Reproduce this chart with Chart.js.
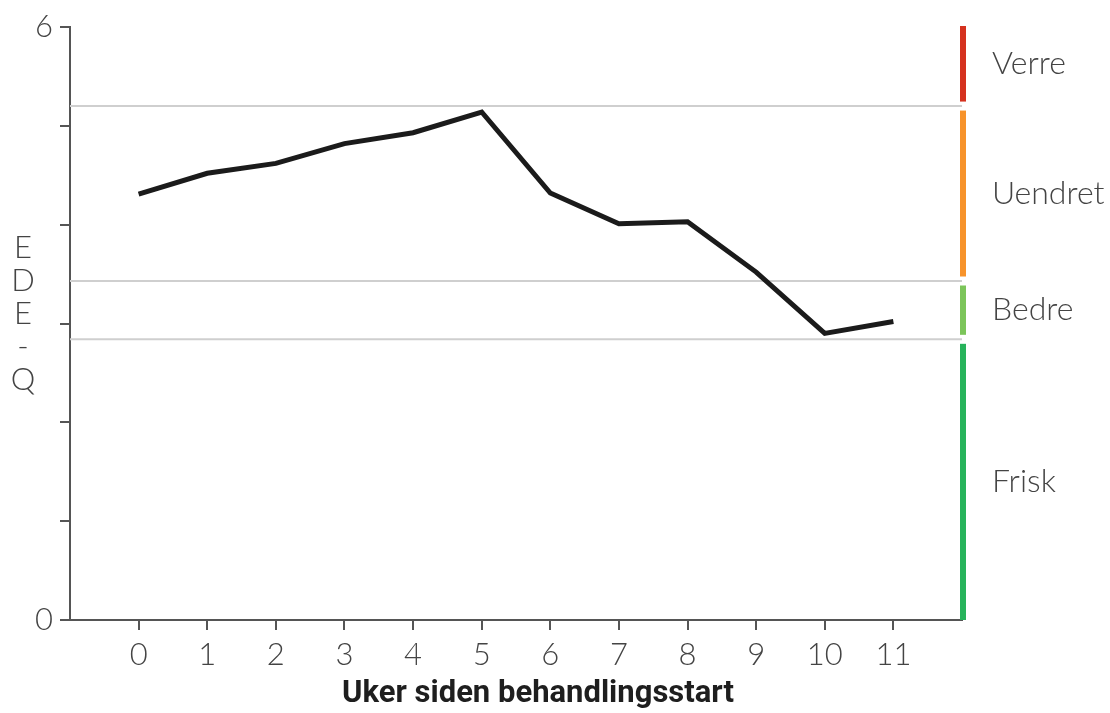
<!DOCTYPE html>
<html>
<head>
<meta charset="utf-8">
<script src="https://cdn.jsdelivr.net/npm/chart.js@4"></script>
<style>
  html, body { margin: 0; padding: 0; background: #fff; }
  #wrap { width: 1110px; height: 713px; }
</style>
</head>
<body>
<div id="wrap"><canvas id="chart"></canvas></div>
<script>
// data
const weeks = [0, 1, 2, 3, 4, 5, 6, 7, 8, 9, 10, 11]
const edeq = [4.31, 4.52, 4.62, 4.82, 4.93, 5.14, 4.32, 4.01, 4.03, 3.52, 2.9, 3.02]
const yTickLabels = [0, 6]
const cutoffs = [2.84, 3.43, 5.2]
const bandNames = ['Frisk', 'Bedre', 'Uendret', 'Verre']
const bandColors = ['#27b35b', '#7cc55a', '#f7932b', '#d5321f']
const yTitle = ['E', 'D', 'E', '-', 'Q']
const xTitle = 'Uker siden behandlingsstart'

const thinFont = '"Lato", "Open Sans", sans-serif'
const textColor = '#444'
const axisColor = '#555'

// extra drawing: cut-off lines, colour bars, labels
const decor = {
	id: 'decor',
	beforeDatasetsDraw(chart) {
		const { ctx, chartArea, scales: { y } } = chart
		ctx.save()
		ctx.strokeStyle = '#cfcfcf'
		ctx.lineWidth = 2
		cutoffs.forEach(v => {
			const py = y.getPixelForValue(v)
			ctx.beginPath()
			ctx.moveTo(chartArea.left, py)
			ctx.lineTo(chartArea.right, py)
			ctx.stroke()
		})
		ctx.restore()
	},
	afterDraw(chart) {
		const { ctx, chartArea, scales: { y } } = chart
		const edges = [y.min, ...cutoffs, y.max]
		const gap = 4.5
		const barX = chartArea.right + 1

		ctx.save()
		bandNames.forEach((name, i) => {
			let bottom = y.getPixelForValue(edges[i])
			let top = y.getPixelForValue(edges[i + 1])
			if (i > 0) bottom -= gap
			if (i < bandNames.length - 1) top += gap
			else top -= 1
			ctx.fillStyle = bandColors[i]
			ctx.fillRect(barX - 3, top, 6, bottom - top)

			ctx.fillStyle = textColor
			ctx.font = '300 32px ' + thinFont
			ctx.textAlign = 'left'
			ctx.textBaseline = 'middle'
			ctx.fillText(name, chartArea.right + 30, (top + bottom) / 2)
		})

		// stacked y title
		ctx.font = '300 31px ' + thinFont
		ctx.textAlign = 'center'
		ctx.textBaseline = 'middle'
		yTitle.forEach((ch, i) => {
			ctx.fillText(ch, 23, 248 + i * 33)
		})

		// x title
		ctx.fillStyle = '#1e1e1e'
		ctx.font = 'bold 31px Roboto, sans-serif'
		ctx.textAlign = 'center'
		ctx.fillText(xTitle, 538, 694)
		ctx.restore()
	}
}

const ctx = document.querySelector('#chart')

new Chart(ctx, {
	type: 'line',
	data: {
		datasets: [{
			data: weeks.map((w, i) => ({ x: w, y: edeq[i] })),
			borderColor: '#1b1b1b',
			borderWidth: 5,
			pointRadius: 0,
			tension: 0,
			borderJoinStyle: 'miter'
		}]
	},
	options: {
		responsive: true,
		maintainAspectRatio: false,
		animation: false,
		layout: { padding: { top: 27, right: 148, left: 0, bottom: 0 } },
		plugins: {
			legend: { display: false },
			tooltip: { enabled: false }
		},
		scales: {
			x: {
				type: 'linear',
				min: -1,
				max: 12,
				afterBuildTicks: scale => {
					scale.ticks = weeks.map(v => ({ value: v }))
				},
				afterFit: scale => { scale.height = 93 },
				grid: {
					drawOnChartArea: false,
					drawTicks: true,
					tickLength: 10,
					color: axisColor,
					lineWidth: 2
				},
				border: { display: true, color: axisColor, width: 2 },
				ticks: {
					color: textColor,
					padding: 6,
					maxRotation: 0,
					autoSkip: false,
					font: { family: thinFont, size: 31, weight: '300' }
				}
			},
			y: {
				min: 0,
				max: 6,
				afterFit: scale => { scale.width = 70 },
				grid: {
					drawOnChartArea: false,
					drawTicks: true,
					tickLength: 10,
					color: axisColor,
					lineWidth: 2
				},
				border: { display: true, color: axisColor, width: 2 },
				ticks: {
					stepSize: 1,
					color: textColor,
					padding: 7,
					font: { family: thinFont, size: 31, weight: '300' },
					callback: v => yTickLabels.includes(v) ? String(v) : ''
				}
			}
		}
	},
	plugins: [decor]
})
</script>
</body>
</html>
